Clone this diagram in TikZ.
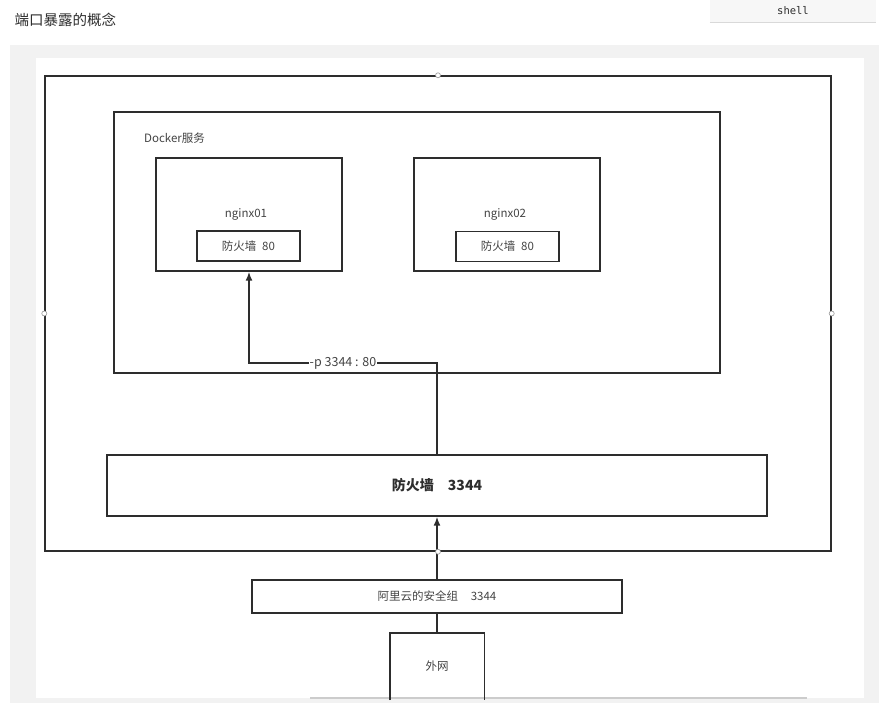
\documentclass[tikz,border=0pt]{standalone}
\usepackage{fontspec}
\setmainfont{Noto Sans CJK SC}
\newfontfamily\monofont{DejaVu Sans Mono}
\usetikzlibrary{arrows.meta,positioning,calc}
\definecolor{linegray}{RGB}{45,45,45}
\definecolor{textgray}{RGB}{68,68,68}
\definecolor{framegray}{RGB}{242,242,242}
\definecolor{btngray}{RGB}{247,247,247}

\begin{document}
\begin{tikzpicture}[
    x=1pt, y=-1pt, >={Latex[length=9pt,width=7pt]},
    box/.style={rectangle, draw=linegray, line width=1.4pt, fill=white, inner sep=0pt, text=textgray, font=\fontsize{11.5}{13}\selectfont},
    lbl/.style={inner sep=1pt, text=textgray, font=\fontsize{11.5}{13}\selectfont},
    link/.style={linegray, line width=1.6pt},
    handle/.style={circle, draw=linegray!50, fill=white, inner sep=0pt, minimum size=5pt, line width=0.6pt}
]
    \useasboundingbox (0,0) rectangle (879,703);

    % page around the drawing
    \fill[framegray] (10,45) rectangle (879,703);
    \fill[white] (36,58) rectangle (864,698);
    \draw[gray!40, line width=2pt] (310,698) -- (807,698);
    \node[anchor=west, text=linegray, font=\fontsize{14.5}{16}\selectfont] (title) at (11,20) {端口暴露的概念};
    \node[rectangle, fill=btngray, minimum width=166pt, minimum height=22pt, inner sep=0pt, font=\monofont\fontsize{10.5}{12}\selectfont, text=linegray] (shell) at (793,11) {shell};
    \draw[gray!30] (shell.south west) -- (shell.south east);

    % host and docker
    \node[box, minimum width=786pt, minimum height=475pt] (host) at (438,313.5) {};
    \node[box, minimum width=606pt, minimum height=261pt] (docker) at (417,242.5) {};
    \node[lbl, anchor=west] (dockerlbl) at (143,138) {Docker服务};

    % containers
    \node[box, minimum width=186pt, minimum height=113pt] (n1) at (249,214.5) {};
    \node[box, minimum width=103pt, minimum height=30pt] (n1fw) at (248.5,246) {防火墙\hspace{0.5em}80};
    \node[lbl] (n1lbl) at (246,214) {nginx01};
    \node[box, minimum width=186pt, minimum height=113pt] (n2) at (507,214.5) {};
    \node[box, minimum width=103pt, minimum height=30pt] (n2fw) at (507.5,246.5) {防火墙\hspace{0.5em}80};
    \node[lbl] (n2lbl) at (505,214) {nginx02};

    % firewalls
    \node[box, minimum width=660pt, minimum height=61pt, font=\fontsize{14}{16}\selectfont\bfseries, text=linegray] (hostfw) at (437,485.5) {防火墙\hspace{1em}3344};
    \node[box, minimum width=370pt, minimum height=33pt] (aliyun) at (437,596.5) {阿里云的安全组\hspace{1.1em}3344};
    \node[lbl, minimum width=94pt, minimum height=67pt] (wan) at (437,666.5) {外网};
    \draw[linegray, line width=1.4pt] (wan.south west) -- (wan.north west) -- (wan.north east) -- (wan.south east);

    % connections
    \coordinate (bend) at (437,363);
    \draw[->, link] (hostfw.north) -- (bend) -| node[pos=0.25, fill=white, lbl, inner sep=0.5pt, font=\fontsize{12.5}{14}\selectfont] (maplbl) {-p 3344 : 80} (n1.south);
    \draw[->, link] (aliyun.north) -- (hostfw.south);
    \draw[link] (wan.north) -- (aliyun.south);

    % selection handles
    \foreach \side in {north, west, east, south}
        \node[handle] at (host.\side) {};
\end{tikzpicture}
\end{document}
